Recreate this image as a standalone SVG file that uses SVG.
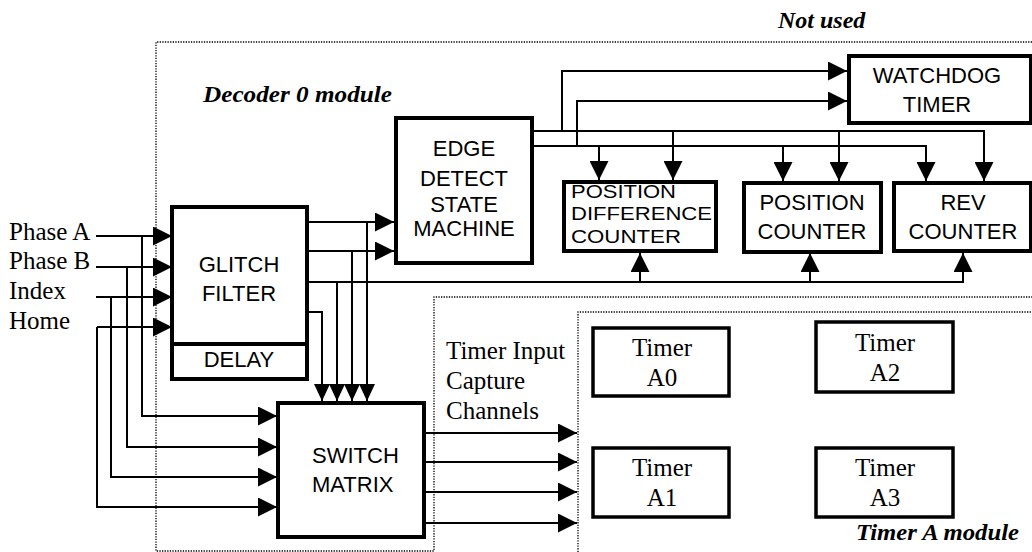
<svg xmlns="http://www.w3.org/2000/svg" width="1032" height="552" viewBox="0 0 1032 552">
<style>
.box{fill:#fff;stroke:#000;stroke-width:4}
.tbox{fill:#fff;stroke:#000;stroke-width:3.5}
.dot{fill:none;stroke:#000;stroke-width:1.3;stroke-dasharray:1.3 1.3}
.ln{fill:none;stroke:#000;stroke-width:2}
.sans{font-family:"Liberation Sans",Arial,sans-serif;font-size:22px;fill:#000}
.pd{font-family:"Liberation Sans",Arial,sans-serif;font-size:18.5px;fill:#000}
.serif{font-family:"Liberation Serif","Times New Roman",serif;font-size:25px;fill:#000}
.bi{font-family:"Liberation Serif","Times New Roman",serif;font-size:24px;font-weight:bold;font-style:italic;fill:#000}
.c{text-anchor:middle}
</style>
<defs>
<marker id="ah" markerUnits="userSpaceOnUse" markerWidth="19" markerHeight="19" viewBox="0 0 19 19" refX="19" refY="9.5" orient="auto"><path d="M0,0 L19,9.5 L0,19 z" fill="#000"/></marker>
<marker id="ahs" markerUnits="userSpaceOnUse" markerWidth="17" markerHeight="16" viewBox="0 0 17 16" refX="17" refY="8" orient="auto"><path d="M0,0 L17,8 L0,16 z" fill="#000"/></marker>
</defs>
<rect width="1032" height="552" fill="#fff"/>

<g id="regions">
<path class="dot" d="M1032,42 H156 V551 H434 V297 H1032"/>
<path class="dot" d="M578,552 V312 H1032"/>
</g>

<g id="labels">
<text class="bi" x="778" y="28">Not used</text>
<text class="bi" x="203" y="102" font-size="25" textLength="189" lengthAdjust="spacingAndGlyphs">Decoder 0 module</text>
<text class="bi" x="856" y="540" textLength="163" lengthAdjust="spacingAndGlyphs">Timer A module</text>
<text class="serif" x="9" y="240">Phase A</text>
<text class="serif" x="9" y="269">Phase B</text>
<text class="serif" x="9" y="299">Index</text>
<text class="serif" x="9" y="329">Home</text>
<text class="serif" x="446" y="359">Timer Input</text>
<text class="serif" x="446" y="389">Capture</text>
<text class="serif" x="446" y="419">Channels</text>
</g>

<g id="connectors">
<path class="ln" d="M96,236 H172" marker-end="url(#ah)"/>
<path class="ln" d="M96,267 H172" marker-end="url(#ah)"/>
<path class="ln" d="M96,297 H172" marker-end="url(#ah)"/>
<path class="ln" d="M97,327 H172" marker-end="url(#ah)"/>
<path class="ln" d="M142,236 V416 H277" marker-end="url(#ah)"/>
<path class="ln" d="M127,267 V447 H277" marker-end="url(#ah)"/>
<path class="ln" d="M111,297 V477 H277" marker-end="url(#ah)"/>
<path class="ln" d="M97,327 V507 H277" marker-end="url(#ah)"/>

<path class="ln" d="M307,222 H394" marker-end="url(#ah)"/>
<path class="ln" d="M307,251 H394" marker-end="url(#ah)"/>
<path class="ln" d="M367,222 V401" marker-end="url(#ahs)"/>
<path class="ln" d="M352,251 V401" marker-end="url(#ahs)"/>
<path class="ln" d="M337,282 V401" marker-end="url(#ahs)"/>
<path class="ln" d="M307,312 H322 V401" marker-end="url(#ahs)"/>
<path class="ln" d="M307,282 H963 V253" marker-end="url(#ah)"/>
<path class="ln" d="M640,282 V253" marker-end="url(#ah)"/>
<path class="ln" d="M810,282 V253" marker-end="url(#ah)"/>

<path class="ln" d="M532,131 H984 V181" marker-end="url(#ah)"/>
<path class="ln" d="M532,146 H926 V181" marker-end="url(#ah)"/>
<path class="ln" d="M562,131 V71 H847" marker-end="url(#ah)"/>
<path class="ln" d="M577,146 V101 H847" marker-end="url(#ah)"/>
<path class="ln" d="M673,131 V180" marker-end="url(#ah)"/>
<path class="ln" d="M599,146 V180" marker-end="url(#ah)"/>
<path class="ln" d="M839,131 V181" marker-end="url(#ah)"/>
<path class="ln" d="M783,146 V181" marker-end="url(#ah)"/>

<path class="ln" d="M424,433 H577" marker-end="url(#ah)"/>
<path class="ln" d="M424,462 H577" marker-end="url(#ah)"/>
<path class="ln" d="M424,492 H577" marker-end="url(#ah)"/>
<path class="ln" d="M424,523 H577" marker-end="url(#ah)"/>
</g>

<g id="glitch-filter">
<rect class="box" x="172" y="207" width="135" height="172"/>
<line x1="172" y1="344" x2="307" y2="344" stroke="#000" stroke-width="4"/>
<text class="sans c" x="239" y="272">GLITCH</text>
<text class="sans c" x="239" y="301">FILTER</text>
<text class="sans c" x="239" y="367">DELAY</text>
</g>

<g id="edge-detect">
<rect class="box" x="396" y="118" width="136" height="145"/>
<text class="sans c" x="464" y="156">EDGE</text>
<text class="sans c" x="464" y="186">DETECT</text>
<text class="sans c" x="464" y="212">STATE</text>
<text class="sans c" x="464" y="236">MACHINE</text>
</g>

<g id="watchdog">
<rect class="box" x="849" y="56" width="182" height="67"/>
<text class="sans c" x="937" y="83">WATCHDOG</text>
<text class="sans c" x="937" y="112">TIMER</text>
</g>

<g id="position-difference-counter">
<rect class="box" x="564" y="182" width="152" height="69"/>
<text class="pd" x="571" y="198" textLength="105" lengthAdjust="spacingAndGlyphs">POSITION</text>
<text class="pd" x="571" y="220" textLength="141" lengthAdjust="spacingAndGlyphs">DIFFERENCE</text>
<text class="pd" x="571" y="243" textLength="110" lengthAdjust="spacingAndGlyphs">COUNTER</text>
</g>

<g id="position-counter">
<rect class="box" x="744" y="183" width="137" height="69"/>
<text class="sans c" x="812" y="210">POSITION</text>
<text class="sans c" x="812" y="239">COUNTER</text>
</g>

<g id="rev-counter">
<rect class="box" x="894" y="183" width="137" height="68"/>
<text class="sans c" x="963" y="210">REV</text>
<text class="sans c" x="963" y="239">COUNTER</text>
</g>

<g id="switch-matrix">
<rect class="box" x="278" y="403" width="146" height="134"/>
<text class="sans" x="312" y="463">SWITCH</text>
<text class="sans" x="312" y="492">MATRIX</text>
</g>

<g id="timer-a0">
<rect class="tbox" x="593" y="328" width="136" height="68"/>
<text class="serif c" x="662" y="356">Timer</text>
<text class="serif c" x="662" y="386">A0</text>
</g>
<g id="timer-a1">
<rect class="tbox" x="593" y="448" width="136" height="69"/>
<text class="serif c" x="662" y="476">Timer</text>
<text class="serif c" x="662" y="506">A1</text>
</g>
<g id="timer-a2">
<rect class="tbox" x="816" y="322" width="137" height="70"/>
<text class="serif c" x="885" y="351">Timer</text>
<text class="serif c" x="885" y="381">A2</text>
</g>
<g id="timer-a3">
<rect class="tbox" x="816" y="448" width="137" height="69"/>
<text class="serif c" x="885" y="476">Timer</text>
<text class="serif c" x="885" y="506">A3</text>
</g>
</svg>
